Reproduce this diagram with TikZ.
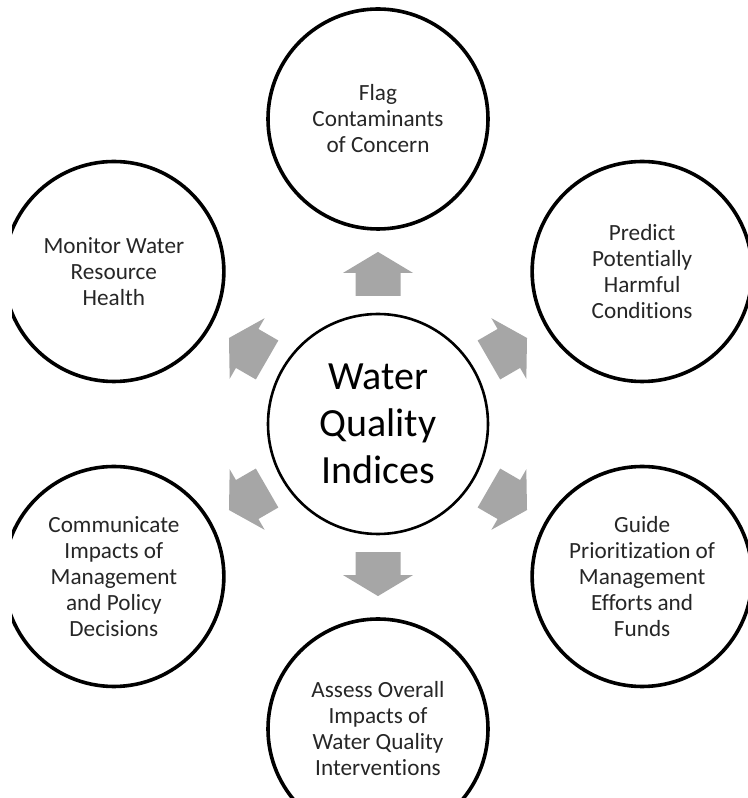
\documentclass[tikz,border=0pt]{standalone}
\usepackage{fontspec}
\setmainfont{Carlito}[Ligatures=NoCommon]
\usepackage{xcolor}
\usetikzlibrary{calc, positioning}
\definecolor{arrowgray}{HTML}{A6A6A6}

\begin{document}
\begin{tikzpicture}[
    x=0.5pt, y=0.5pt,
    hub/.style={circle, draw, line width=1.3pt, minimum size=110pt, inner sep=0pt,
        align=center, font=\fontsize{20}{23.5}\selectfont},
    goal/.style={circle, draw, line width=1.8pt, minimum size=110pt, inner sep=0pt,
        align=center, text=black!85, font=\fontsize{11.6}{13}\selectfont},
    blockarrow/.style={fill=arrowgray}
  ]
    \useasboundingbox (0,0) rectangle (748,798);
    \clip (12,0) rectangle (748,798);
    \node[hub] (wqi) at (378,374) {Water\\Quality\\Indices};
    \node[goal] (flag) at ($(wqi)+(90:305)$) {Flag\\Contaminants\\of Concern};
    \node[goal] (predict) at ($(wqi)+(30:305)$) {Predict\\Potentially\\Harmful\\Conditions};
    \node[goal] (guide) at ($(wqi)+(-30:305)$) {Guide\\Prioritization of\\Management\\Efforts and\\Funds};
    \node[goal] (assess) at ($(wqi)+(-90:305)$) {Assess Overall\\Impacts of\\Water Quality\\Interventions};
    \node[goal] (communicate) at ($(wqi)+(210:305)$) {Communicate\\Impacts of\\Management\\and Policy\\Decisions};
    \node[goal] (monitor) at ($(wqi)+(150:305)$) {Monitor Water\\Resource\\Health};
    \foreach \n/\a in {flag/90, predict/30, guide/-30, assess/-90, communicate/210, monitor/150}
        \fill[blockarrow, shift={($(wqi)!0.492!(\n)$)}, rotate=\a]
            (-22,-22.5) -- (1,-22.5) -- (1,-35) -- (22,0) -- (1,35) -- (1,22.5) -- (-22,22.5) -- cycle;
\end{tikzpicture}
\end{document}
